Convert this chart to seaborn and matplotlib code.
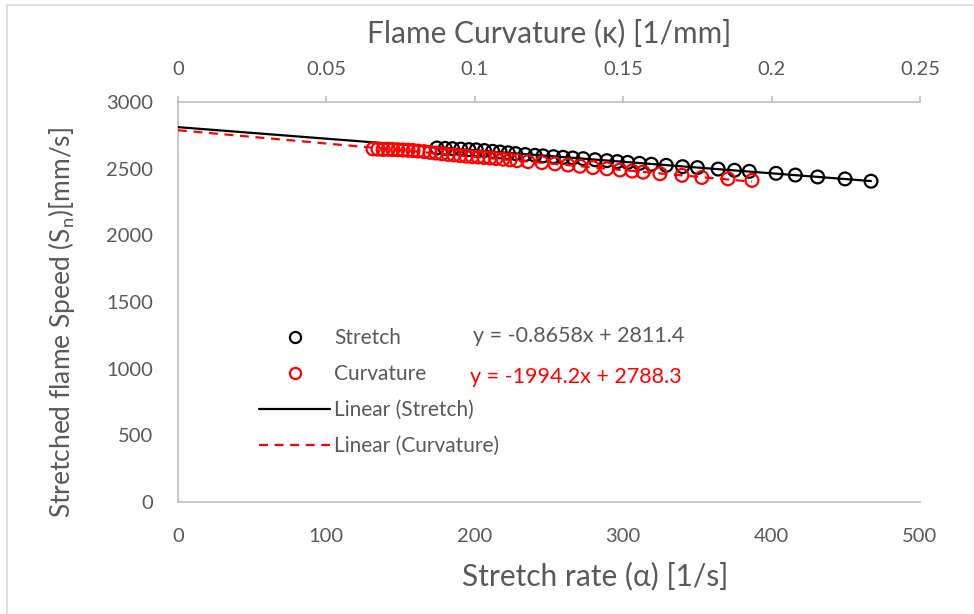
import matplotlib
matplotlib.use("Agg")
import matplotlib.pyplot as plt
import seaborn as sns
import numpy as np
import pandas as pd
from matplotlib.lines import Line2D
from matplotlib.patches import Rectangle

# ---------------- data ----------------
stretch_rate = [174.5, 180, 185, 190.5, 196, 201, 206.5, 212, 217, 222.5, 227.5, 234, 240.5,
                246, 253, 259.5, 266, 273, 281, 289, 296, 303, 311, 319, 329, 340, 350, 364,
                375, 385, 403, 416, 431, 449.5, 467]
stretch_speed = [2655, 2652, 2650, 2647, 2643, 2641, 2636, 2630, 2625, 2619, 2613, 2606, 2600,
                 2596, 2590, 2585, 2580, 2575, 2567, 2560, 2553, 2547, 2540, 2533, 2525, 2515,
                 2508, 2497, 2488, 2480, 2465, 2452, 2438, 2423, 2406]

curvature = [0.0657, 0.0674, 0.0691, 0.0708, 0.0724, 0.0741, 0.0758, 0.0775, 0.0792, 0.0809,
             0.0829, 0.0849, 0.0869, 0.0889, 0.0910, 0.0930, 0.0950, 0.0970, 0.0991, 0.1011,
             0.1031, 0.1051, 0.1071, 0.1095, 0.1119, 0.1142, 0.1179, 0.1226, 0.1270, 0.1314,
             0.1354, 0.1398, 0.1445, 0.1489, 0.1530, 0.1567, 0.1624, 0.1698, 0.1765, 0.1853,
             0.1934]
curvature_speed = [2648, 2646, 2644, 2645, 2643, 2642, 2640, 2638, 2636, 2632, 2628, 2622, 2617,
                   2612, 2607, 2603, 2598, 2594, 2590, 2587, 2584, 2580, 2576, 2571, 2566, 2560,
                   2553, 2545, 2536, 2527, 2518, 2508, 2499, 2490, 2482, 2474, 2462, 2450, 2434,
                   2424, 2412]

# trendline coefficients (from the chart's equations)
stretch_fit = [-0.8658, 2811.4]
curv_fit = [-1994.2, 2788.3]

bottom_ticks = [0, 100, 200, 300, 400, 500]
top_ticks = [0, 0.05, 0.1, 0.15, 0.2, 0.25]
top_ticklabels = ["0", "0.05", "0.1", "0.15", "0.2", "0.25"]
y_ticks = [0, 500, 1000, 1500, 2000, 2500, 3000]

# ---------------- style ----------------
sns.set_theme(style="white")
plt.rcParams["font.family"] = ["Lato", "DejaVu Sans"]
plt.rcParams["mathtext.fontset"] = "custom"
plt.rcParams["mathtext.rm"] = "Lato"
plt.rcParams["mathtext.it"] = "Lato"

GRAY = "#595959"
AXGRAY = "#BFBFBF"

W, H = 974, 614
fig = plt.figure(figsize=(W / 100, H / 100), dpi=100)
fig.patch.set_facecolor("white")

# outer chart border
fig.patches.append(Rectangle((7 / W, -0.05), 1.1, 1 - 5 / H + 0.05, transform=fig.transFigure,
                             fill=False, edgecolor="#D9D9D9", linewidth=1.2))

ax = fig.add_axes([178 / W, 1 - 502 / H, (920 - 178) / W, (502 - 102) / H])
ax2 = ax.twiny()

# trendlines
xs = np.array([0, max(stretch_rate)])
df_s_fit = pd.DataFrame({"x": xs, "y": stretch_fit[0] * xs + stretch_fit[1]})
ks = np.array([0, max(curvature)])
df_c_fit = pd.DataFrame({"x": ks, "y": curv_fit[0] * ks + curv_fit[1]})

sns.lineplot(data=df_s_fit, x="x", y="y", ax=ax, color="black", linewidth=1.6, zorder=3)
sns.lineplot(data=df_c_fit, x="x", y="y", ax=ax2, color="red", linewidth=1.6,
             linestyle=(0, (4, 3)), zorder=3)

df_s = pd.DataFrame({"x": stretch_rate, "y": stretch_speed})
df_c = pd.DataFrame({"x": curvature, "y": curvature_speed})
sns.scatterplot(data=df_s, x="x", y="y", ax=ax, marker="o", s=85, facecolors="none",
                edgecolor="black", linewidth=1.6, zorder=4)
sns.scatterplot(data=df_c, x="x", y="y", ax=ax2, marker="o", s=85, facecolors="none",
                edgecolor="red", linewidth=1.6, zorder=4)

ax.set_xlim(0, 500)
ax.set_ylim(0, 3000)
ax2.set_xlim(0, 0.25)

ax.set_xticks(bottom_ticks)
ax.set_yticks(y_ticks)
ax2.set_xticks(top_ticks)
ax2.set_xticklabels(top_ticklabels)

for a in (ax, ax2):
    for s in a.spines.values():
        s.set_visible(False)
    a.grid(False)
    a.set_facecolor("none")

ax.spines["bottom"].set_visible(True)
ax.spines["left"].set_visible(True)
ax2.spines["top"].set_visible(True)
for sp in (ax.spines["bottom"], ax.spines["left"], ax2.spines["top"]):
    sp.set_color(AXGRAY)
    sp.set_linewidth(1.2)

ax.tick_params(axis="x", length=0, pad=19, labelsize=14.5, labelcolor=GRAY)
ax.tick_params(axis="y", length=0, pad=18, labelsize=14.5, labelcolor=GRAY)
ax2.tick_params(axis="x", direction="out", length=4, width=1.2, color=AXGRAY, pad=13,
                labelsize=14.5, labelcolor=GRAY)

ax.set_xlabel("Stretch rate (α) [1/s]", fontsize=21.5, color=GRAY)
ax.set_ylabel("Stretched flame Speed (S$_n$)[mm/s]", fontsize=19, color=GRAY)
ax2.set_xlabel("Flame Curvature (κ) [1/mm]", fontsize=21.5, color=GRAY, labelpad=14)

# place bottom/left labels where the reference has them
ax.xaxis.set_label_coords((595 - 178) / (920 - 178), -(576 - 502) / (502 - 102),
                          transform=ax.transAxes)
ax.xaxis.label.set_va("center")
ax.yaxis.set_label_coords(-(178 - 62) / (920 - 178), (502 - 322) / (502 - 102),
                          transform=ax.transAxes)
ax.yaxis.label.set_va("center")

# legend
handles = [
    Line2D([], [], marker="o", linestyle="none", markerfacecolor="none",
           markeredgecolor="black", markeredgewidth=1.6, markersize=8),
    Line2D([], [], marker="o", linestyle="none", markerfacecolor="none",
           markeredgecolor="red", markeredgewidth=1.6, markersize=8),
    Line2D([], [], color="black", linewidth=1.6),
    Line2D([], [], color="red", linewidth=1.6, linestyle=(0, (4, 3))),
]
labels = ["Stretch", "Curvature", "Linear (Stretch)", "Linear (Curvature)"]
leg = ax.legend(handles, labels, loc="upper left",
                bbox_to_anchor=(251 / W, 1 - 320 / H), bbox_transform=fig.transFigure,
                frameon=False, fontsize=15, labelspacing=0.76, handlelength=3.4,
                handletextpad=0.2, borderaxespad=0)
for t in leg.get_texts():
    t.set_color(GRAY)

fig.text(473 / W, 1 - 336 / H, "y = -0.8658x + 2811.4", fontsize=15.5, color=GRAY,
         ha="left", va="center")
fig.text(470 / W, 1 - 377 / H, "y = -1994.2x + 2788.3", fontsize=15.5, color="red",
         ha="left", va="center")

fig.savefig("out.png", dpi=100)
